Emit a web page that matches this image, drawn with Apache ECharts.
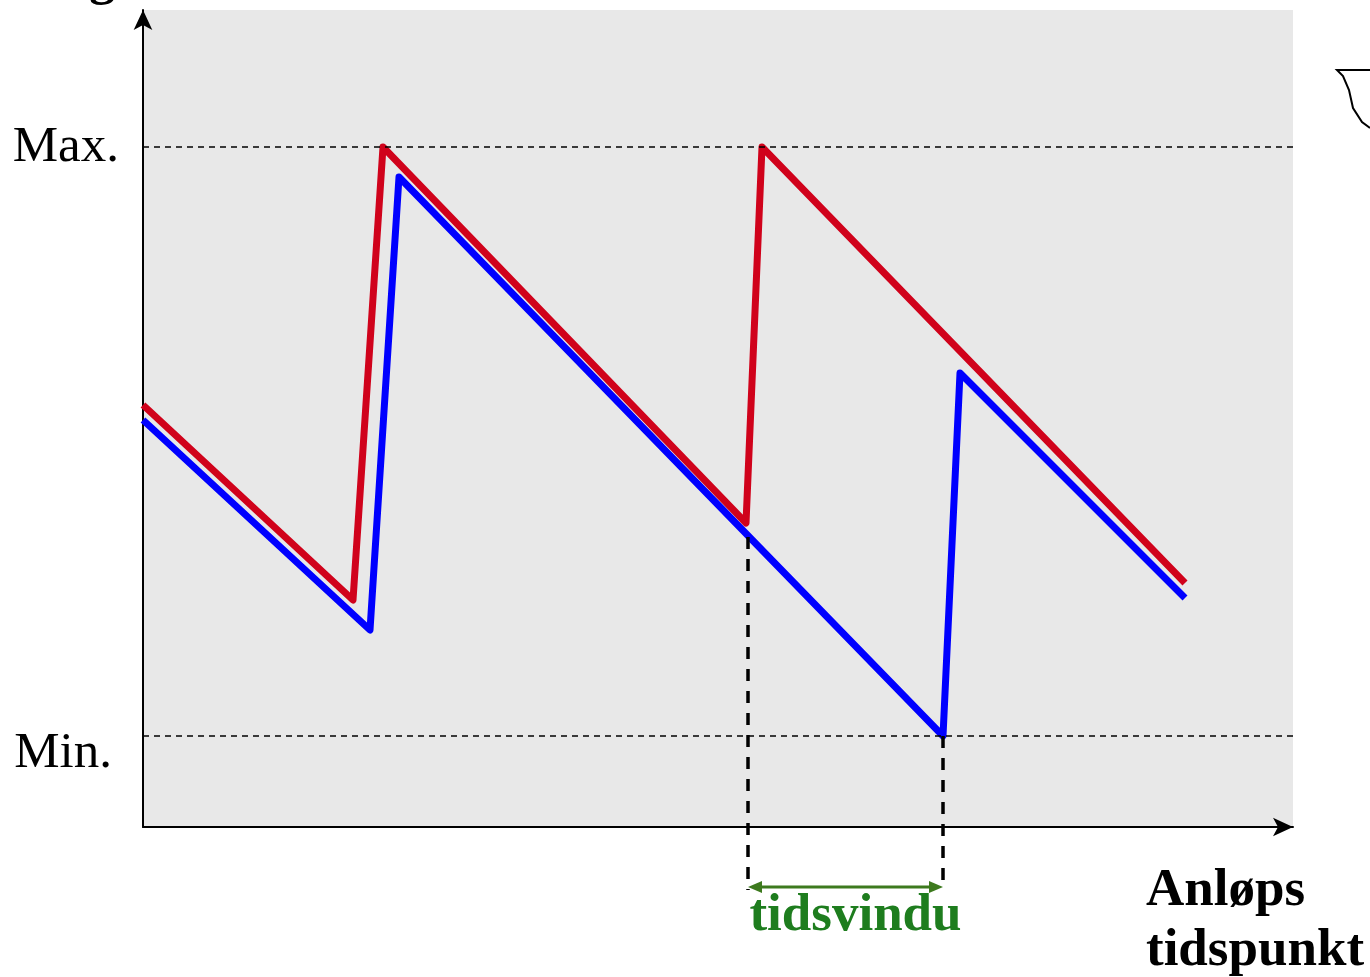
<!DOCTYPE html>
<html>
<head>
<meta charset="utf-8">
<style>html,body{margin:0;padding:0;background:#fff;}#c{width:1370px;height:977px;}</style>
<script src="https://cdn.jsdelivr.net/npm/echarts@6/dist/echarts.min.js"></script>
</head>
<body>
<div id="c"></div>
<script>
// Time axis units (0..1150), level axis units (0..817)
const redX  = [0, 210, 240, 603, 619, 1042];
const redY  = [422, 227, 680, 304, 680, 244];
const blueX = [0, 227, 256, 800, 817, 1042];
const blueY = [407, 197, 650, 91, 454, 229];
const levelMax = 680;
const levelMin = 91;
const windowStart = 605;   // time where red turns up / blue crosses
const windowEnd = 800;     // blue reaches min
const windowStartLevel = 290;
const belowAxisLevel = -63;
const labels = { max: 'Max.', min: 'Min.', window: 'tidsvindu', xName1: 'Anløps', xName2: 'tidspunkt', yName: 'g' };

const chart = echarts.init(document.getElementById('c'), null, {renderer: 'canvas'});
const zip = (xs, ys) => xs.map((x, i) => [x, ys[i]]);

const option = {
  animation: false,
  grid: { left: 143, right: 77, top: 10, bottom: 150, show: true, backgroundColor: '#e8e8e8', borderWidth: 0 },
  xAxis: {
    type: 'value', min: 0, max: 1150,
    axisLine: { show: true, onZero: false, symbol: ['none', 'arrow'], symbolSize: [14, 20], symbolOffset: [0, 0], lineStyle: { color: '#000', width: 2 } },
    axisTick: { show: false }, axisLabel: { show: false }, splitLine: { show: false }
  },
  yAxis: {
    type: 'value', min: 0, max: 817,
    axisLine: { show: true, onZero: false, symbol: ['none', 'arrow'], symbolSize: [14, 20], symbolOffset: [0, 0], lineStyle: { color: '#000', width: 2 } },
    axisTick: { show: false }, axisLabel: { show: false }, splitLine: { show: false }
  },
  series: [
    {
      type: 'line', data: zip(blueX, blueY), symbol: 'none', z: 3,
      lineStyle: { color: '#0000ff', width: 7, join: 'round', cap: 'butt' },
      markLine: {
        silent: true, symbol: 'none', label: { show: false },
        lineStyle: { color: '#000', width: 1.5, type: [6, 5] },
        data: [{ yAxis: levelMax }, { yAxis: levelMin }]
      }
    },
    {
      type: 'line', data: zip(redX, redY), symbol: 'none', z: 4,
      lineStyle: { color: '#d0021b', width: 7, join: 'round', cap: 'butt' }
    }
  ]
};
chart.setOption(option);

const p = (x, y) => chart.convertToPixel({ gridIndex: 0 }, [x, y]);
const a1 = p(windowStart, windowStartLevel), a2 = p(windowStart, belowAxisLevel);
const b1 = p(windowEnd, levelMin), b2 = p(windowEnd, belowAxisLevel);
const yMaxPx = p(0, levelMax)[1], yMinPx = p(0, levelMin)[1];
const arrowY = a2[1] - 3;
const green = '#3d7a1e';
const serif = '"Liberation Serif", "Times New Roman", serif';

chart.setOption({
  graphic: [
    { type: 'line', z: 10, shape: { x1: a1[0], y1: a1[1], x2: a2[0], y2: a2[1] }, style: { stroke: '#000', lineWidth: 3.5, lineDash: [12, 10] } },
    { type: 'line', z: 10, shape: { x1: b1[0], y1: b1[1], x2: b2[0], y2: b2[1] }, style: { stroke: '#000', lineWidth: 3.5, lineDash: [12, 10] } },
    { type: 'line', z: 10, shape: { x1: a1[0] + 8, y1: arrowY, x2: b1[0] - 8, y2: arrowY }, style: { stroke: green, lineWidth: 3 } },
    { type: 'polygon', z: 10, shape: { points: [[a1[0], arrowY], [a1[0] + 14, arrowY - 6], [a1[0] + 14, arrowY + 6]] }, style: { fill: green } },
    { type: 'polygon', z: 10, shape: { points: [[b1[0], arrowY], [b1[0] - 14, arrowY - 6], [b1[0] - 14, arrowY + 6]] }, style: { fill: green } },
    { type: 'text', z: 10, x: (a1[0] + b1[0]) / 2 + 10, y: arrowY + 3, style: { text: labels.window, font: 'bold 53px ' + serif, fill: '#1e7d1e', textAlign: 'center', textVerticalAlign: 'top' } },
    { type: 'text', z: 10, x: 1146, y: 861, style: { text: labels.xName1 + '\n' + labels.xName2, font: 'bold 53px ' + serif, fill: '#000', lineHeight: 60, textAlign: 'left', textVerticalAlign: 'top' } },
    { type: 'text', z: 10, x: 119, y: yMaxPx + 1, style: { text: labels.max, font: '51px ' + serif, fill: '#000', textAlign: 'right', textVerticalAlign: 'middle' } },
    { type: 'text', z: 10, x: 112, y: yMinPx + 18, style: { text: labels.min, font: '51px ' + serif, fill: '#000', textAlign: 'right', textVerticalAlign: 'middle' } },
    { type: 'text', z: 10, x: 102, y: -19, style: { text: labels.yName, font: 'bold 52px ' + serif, fill: '#000', textAlign: 'center', textVerticalAlign: 'middle' } },
    { type: 'polyline', z: 10, shape: { points: [[1370, 70], [1337, 70], [1343, 76], [1349, 90], [1353, 108], [1362, 122], [1370, 128]] }, style: { stroke: '#000', lineWidth: 2, fill: null } }
  ]
});
</script>
</body>
</html>
